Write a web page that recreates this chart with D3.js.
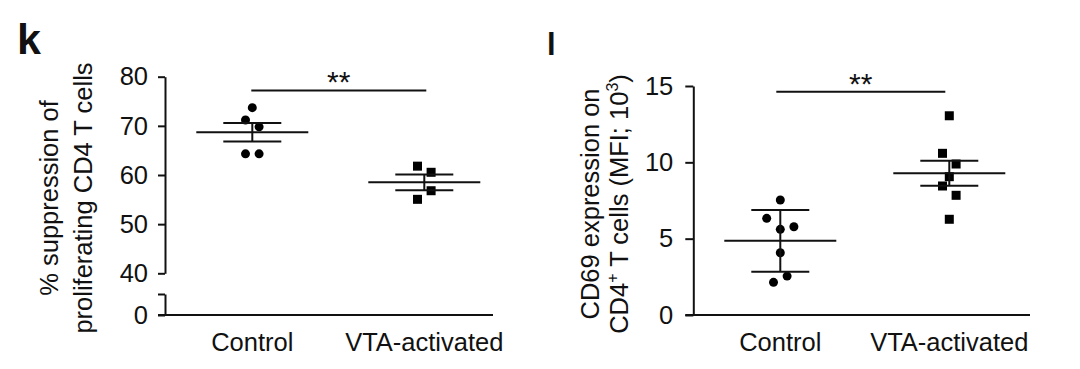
<!DOCTYPE html>
<html>
<head>
<meta charset="utf-8">
<script src="https://cdn.jsdelivr.net/npm/d3@7"></script>
<style>
  html, body { margin: 0; padding: 0; background: #fff; }
  svg { display: block; }
  text { font-family: "Liberation Sans", Arial, Helvetica, sans-serif; fill: #111; }
</style>
</head>
<body>
<svg id="chart" width="1080" height="369"></svg>
<script>
// ---------- data ----------
const categories = ["Control", "VTA-activated"];

// Panel k: % suppression of proliferating CD4 T cells
const kTicks = [40, 50, 60, 70, 80];
const kControl = [73.7, 71.2, 69.8, 64.3, 64.3];
const kControlSlot = [0, -1, 1, -1, 1];
const kVTA = [61.8, 60.55, 56.8, 55.05];
const kVTASlot = [-1, 1, 1, -1];
const kMeans = [68.7, 58.5];
const kErrors = [1.9, 1.6];
const kSignif = "**";

// Panel l: CD69 expression on CD4+ T cells (MFI; 10^3)
const lTicks = [0, 5, 10, 15];
const lControl = [7.53, 6.33, 5.78, 5.61, 4.08, 2.55, 2.14];
const lControlSlot = [0, -2, 2, 0, 0, 1, -1];
const lVTA = [13.05, 10.59, 9.89, 9.06, 8.45, 7.84, 6.27];
const lVTASlot = [0, -1, 1, 0, -1, 1, 0];
const lMeans = [4.86, 9.29];
const lErrors = [2.02, 0.82];
const lSignif = "**";

// ---------- drawing ----------
const svg = d3.select("#chart");
const FONT = 25.5;
const STROKE = 2;
const jitter = d3.scaleLinear().domain([-1, 1]).range([-6.8, 6.8]);

function styleAxis(g) {
  g.attr("font-size", FONT).attr("font-family", '"Liberation Sans", Arial, sans-serif');
  g.selectAll("path.domain").attr("stroke", "#111").attr("stroke-width", STROKE);
  g.selectAll(".tick line").attr("stroke", "#111").attr("stroke-width", STROKE);
  g.selectAll(".tick text").attr("fill", "#111");
}

function drawGroup(g, x, y, cat, values, slots, mean, err, shape) {
  const cx = x(cat);
  if (shape === "circle") {
    g.selectAll(null).data(values).enter().append("circle")
      .attr("cx", (d, i) => cx + jitter(slots[i]))
      .attr("cy", d => y(d))
      .attr("r", 4.5)
      .attr("fill", "#000");
  } else {
    const s = 9;
    g.selectAll(null).data(values).enter().append("rect")
      .attr("x", (d, i) => cx + jitter(slots[i]) - s / 2)
      .attr("y", d => y(d) - s / 2)
      .attr("width", s).attr("height", s)
      .attr("fill", "#000");
  }
  const line = (x1, y1, x2, y2) => g.append("line")
    .attr("x1", x1).attr("y1", y1).attr("x2", x2).attr("y2", y2)
    .attr("stroke", "#111").attr("stroke-width", STROKE);
  line(cx - 56, y(mean), cx + 56, y(mean));
  line(cx - 29, y(mean + err), cx + 29, y(mean + err));
  line(cx - 29, y(mean - err), cx + 29, y(mean - err));
  line(cx, y(mean + err), cx, y(mean - err));
}

function sigBar(g, x1, x2, yPos, label) {
  g.append("line").attr("x1", x1).attr("x2", x2).attr("y1", yPos).attr("y2", yPos)
    .attr("stroke", "#111").attr("stroke-width", STROKE);
  g.append("text").attr("x", (x1 + x2) / 2).attr("y", yPos + 2)
    .attr("text-anchor", "middle").attr("font-size", 30).text(label);
}

// ===== Panel k =====
{
  const g = svg.append("g");
  const axisX = 165;
  const y = d3.scaleLinear().domain([40, 80]).range([273.3, 76.7]);
  const yLow = d3.scaleLinear().domain([0, 10]).range([315, 294]);
  const x = d3.scalePoint().domain(categories).range([252.3, 424.3]);

  g.append("g").attr("transform", `translate(${axisX},0)`)
    .call(d3.axisLeft(y).tickValues(kTicks).tickSize(7).tickPadding(10).tickSizeOuter(0))
    .call(styleAxis);
  g.append("g").attr("transform", `translate(${axisX},0)`)
    .call(d3.axisLeft(yLow).tickValues([0, 10]).tickFormat(d => d === 0 ? "0" : "")
      .tickSize(7).tickPadding(10).tickSizeOuter(0))
    .call(styleAxis);
  g.append("line").attr("x1", axisX - 7).attr("x2", 493)
    .attr("y1", yLow(0)).attr("y2", yLow(0))
    .attr("stroke", "#111").attr("stroke-width", STROKE);
  g.selectAll(null).data(categories).enter().append("text")
    .attr("x", d => x(d)).attr("y", 351).attr("text-anchor", "middle")
    .attr("font-size", FONT).text(d => d);

  drawGroup(g, x, y, categories[0], kControl, kControlSlot, kMeans[0], kErrors[0], "circle");
  drawGroup(g, x, y, categories[1], kVTA, kVTASlot, kMeans[1], kErrors[1], "square");
  sigBar(g, x(categories[0]) - 1, x(categories[1]) + 2, y(77.2), kSignif);

  const t = g.append("text").attr("transform", "translate(0,198) rotate(-90)")
    .attr("text-anchor", "middle").attr("font-size", FONT);
  t.append("tspan").attr("x", 0).attr("y", 58).text("% suppression of");
  t.append("tspan").attr("x", 0).attr("y", 92).text("proliferating CD4 T cells");

  g.append("text").attr("x", 17).attr("y", 54).attr("font-size", 43)
    .attr("font-weight", "bold").text("k");
}

// ===== Panel l =====
{
  const g = svg.append("g");
  const axisX = 693.3;
  const y = d3.scaleLinear().domain([0, 15]).range([315, 86]);
  const x = d3.scalePoint().domain(categories).range([780.3, 949.3]);

  g.append("g").attr("transform", `translate(${axisX},0)`)
    .call(d3.axisLeft(y).tickValues(lTicks).tickSize(8).tickPadding(12).tickSizeOuter(0))
    .call(styleAxis);
  g.append("line").attr("x1", axisX - 8).attr("x2", 1030)
    .attr("y1", y(0)).attr("y2", y(0))
    .attr("stroke", "#111").attr("stroke-width", STROKE);
  g.selectAll(null).data(categories).enter().append("text")
    .attr("x", d => x(d)).attr("y", 351).attr("text-anchor", "middle")
    .attr("font-size", FONT).text(d => d);

  drawGroup(g, x, y, categories[0], lControl, lControlSlot, lMeans[0], lErrors[0], "circle");
  drawGroup(g, x, y, categories[1], lVTA, lVTASlot, lMeans[1], lErrors[1], "square");
  sigBar(g, x(categories[0]) - 4, x(categories[1]) - 4, y(14.63), lSignif);

  const t = g.append("text").attr("transform", "translate(0,204) rotate(-90)")
    .attr("text-anchor", "middle").attr("font-size", FONT);
  t.append("tspan").attr("x", 0).attr("y", 599).text("CD69 expression on");
  const l2 = t.append("tspan").attr("x", 0).attr("y", 628);
  l2.append("tspan").text("CD4");
  l2.append("tspan").attr("dy", -10).attr("font-size", 16).text("+");
  l2.append("tspan").attr("dy", 10).text(" T cells (MFI; 10");
  l2.append("tspan").attr("dy", -10).attr("font-size", 16).text("3");
  l2.append("tspan").attr("dy", 10).text(")");

  g.append("text").attr("x", 547).attr("y", 55).attr("font-size", 31)
    .attr("font-weight", "bold").text("l");
}
</script>
</body>
</html>
